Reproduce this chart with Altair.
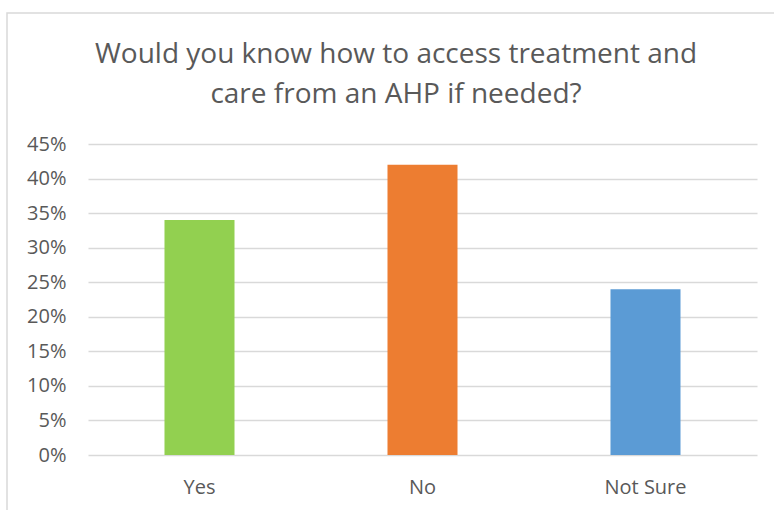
import altair as alt
import pandas as pd

# Survey responses (share of respondents)
categories = ["Yes", "No", "Not Sure"]
shares = [0.34, 0.42, 0.24]
bar_colors = ["#92D050", "#ED7D31", "#5B9BD5"]

title_lines = ["Would you know how to access treatment and", "care from an AHP if needed?"]

df = pd.DataFrame({"answer": categories, "share": shares})

PLOT_W, PLOT_H = 669, 311
LEFT, TOP = 88, 144

bars = alt.Chart(df).mark_bar(width=alt.RelativeBandSize(0.314)).encode(
    x=alt.X(
        "answer:N",
        sort=categories,
        title=None,
        scale=alt.Scale(paddingInner=0, paddingOuter=0),
        axis=alt.Axis(
            labelAngle=0,
            labelFont="Open Sans",
            labelFontSize=20,
            labelColor="#595959",
            labelPadding=22,
            ticks=False,
            domain=False,
            grid=False,
        ),
    ),
    y=alt.Y(
        "share:Q",
        title=None,
        scale=alt.Scale(domain=[0, 0.45], nice=False),
        axis=alt.Axis(
            values=[i * 0.05 for i in range(10)],
            format=".0%",
            labelFont="Open Sans",
            labelFontSize=20,
            labelColor="#595959",
            labelPadding=22,
            ticks=False,
            domain=False,
            grid=True,
            gridColor="#D9D9D9",
            gridWidth=1.3,
        ),
    ),
    color=alt.Color(
        "answer:N",
        sort=categories,
        scale=alt.Scale(domain=categories, range=bar_colors),
        legend=None,
    ),
)

one_row = pd.DataFrame({"k": [0]})

# Light frame around the whole chart
frame = alt.Chart(one_row).mark_rect(
    fillOpacity=0, stroke="#D9D9D9", strokeWidth=1.5
).encode(
    x=alt.value(7 - LEFT),
    x2=alt.value(774 - LEFT + 10),
    y=alt.value(13 - TOP),
    y2=alt.value(510 - TOP + 10),
)

# Two-line chart title
title = alt.Chart(one_row).mark_text(
    font="Open Sans",
    fontSize=28,
    color="#595959",
    align="center",
    baseline="alphabetic",
    lineHeight=40,
).encode(
    x=alt.value(396 - LEFT),
    y=alt.value(63 - TOP),
    text=alt.value(title_lines),
)

chart = alt.layer(frame, title, bars).properties(
    width=PLOT_W,
    height=PLOT_H,
    autosize=alt.AutoSizeParams(type="none"),
    padding={"left": LEFT, "top": TOP, "right": 774 - LEFT - PLOT_W, "bottom": 510 - TOP - PLOT_H},
).configure_view(stroke=None)

chart.save("out.html", embed_options={"renderer": "svg", "actions": False})
